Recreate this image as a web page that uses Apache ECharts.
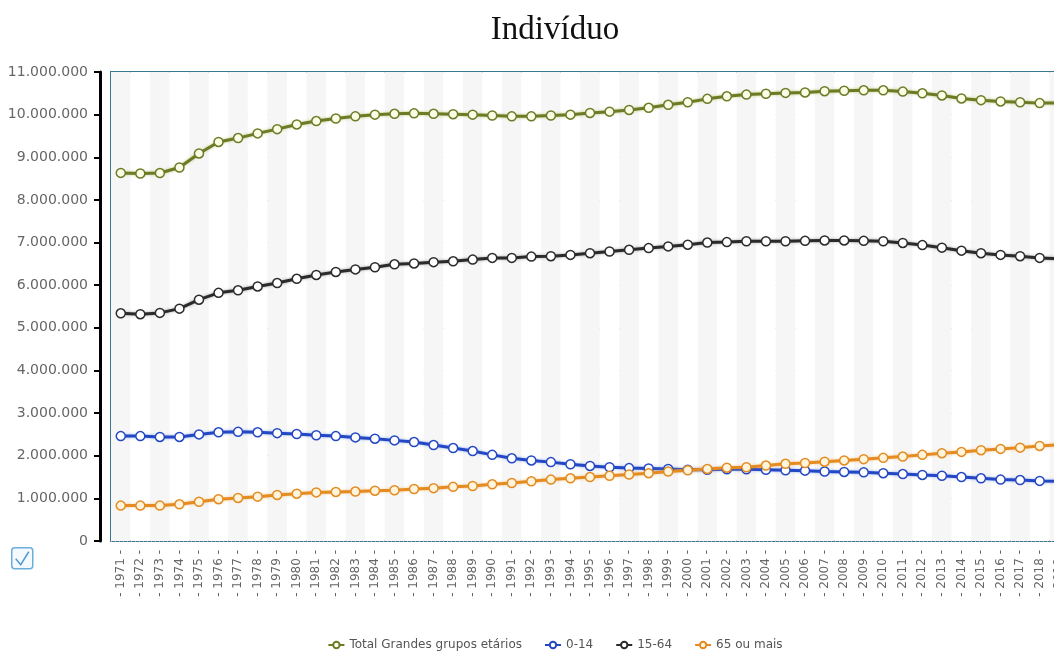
<!DOCTYPE html>
<html>
<head>
<meta charset="utf-8">
<script src="https://cdn.jsdelivr.net/npm/echarts@6/dist/echarts.min.js"></script>
<style>
  html, body { margin: 0; padding: 0; background: #fff; overflow: hidden; }
  #chart { width: 1110px; height: 658px; }
</style>
</head>
<body>
<div id="chart"></div>
<script>
// Resident population by broad age group, 1971-2019
const years = ['1971','1972','1973','1974','1975','1976','1977','1978','1979','1980',
  '1981','1982','1983','1984','1985','1986','1987','1988','1989','1990',
  '1991','1992','1993','1994','1995','1996','1997','1998','1999','2000',
  '2001','2002','2003','2004','2005','2006','2007','2008','2009','2010',
  '2011','2012','2013','2014','2015','2016','2017','2018','2019'];

const total = [8634000, 8620000, 8630000, 8760000, 9090000, 9360000, 9450000, 9560000, 9660000, 9770000,
  9850000, 9910000, 9960000, 10000000, 10020000, 10030000, 10020000, 10010000, 10000000, 9980000,
  9960000, 9960000, 9980000, 10000000, 10040000, 10070000, 10110000, 10160000, 10230000, 10290000,
  10370000, 10430000, 10470000, 10490000, 10510000, 10520000, 10550000, 10560000, 10570000, 10570000,
  10540000, 10500000, 10450000, 10380000, 10340000, 10310000, 10290000, 10270000, 10270000];

const age0to14 = [2460000, 2460000, 2440000, 2440000, 2500000, 2550000, 2560000, 2550000, 2530000, 2510000,
  2480000, 2460000, 2430000, 2400000, 2360000, 2320000, 2250000, 2180000, 2110000, 2020000,
  1940000, 1890000, 1850000, 1800000, 1760000, 1730000, 1710000, 1700000, 1690000, 1670000,
  1670000, 1680000, 1680000, 1670000, 1660000, 1650000, 1630000, 1620000, 1610000, 1590000,
  1570000, 1550000, 1530000, 1500000, 1470000, 1440000, 1430000, 1410000, 1400000];

const age15to64 = [5340000, 5320000, 5350000, 5450000, 5660000, 5820000, 5880000, 5970000, 6050000, 6150000,
  6240000, 6310000, 6370000, 6420000, 6490000, 6510000, 6540000, 6560000, 6600000, 6640000,
  6640000, 6670000, 6680000, 6710000, 6750000, 6790000, 6830000, 6870000, 6910000, 6950000,
  7000000, 7010000, 7030000, 7030000, 7030000, 7040000, 7050000, 7050000, 7040000, 7030000,
  6990000, 6940000, 6880000, 6810000, 6750000, 6710000, 6680000, 6640000, 6620000];

const age65plus = [830000, 830000, 830000, 860000, 920000, 980000, 1010000, 1040000, 1080000, 1110000,
  1140000, 1150000, 1160000, 1180000, 1190000, 1220000, 1240000, 1270000, 1290000, 1330000,
  1360000, 1400000, 1440000, 1470000, 1500000, 1530000, 1560000, 1590000, 1630000, 1660000,
  1690000, 1720000, 1730000, 1770000, 1810000, 1830000, 1860000, 1890000, 1920000, 1950000,
  1980000, 2020000, 2060000, 2090000, 2130000, 2160000, 2190000, 2230000, 2260000];

const seriesNames = ['Total Grandes grupos etários', '0-14', '15-64', '65 ou mais'];

function fmtThousands(v) {
  return String(v).replace(/\B(?=(\d{3})+(?!\d))/g, '.');
}

function lineSeries(name, data, color, fill, glow) {
  return {
    name: name,
    type: 'line',
    data: data,
    symbol: 'circle',
    symbolSize: 9,
    showAllSymbol: true,
    smooth: false,
    lineStyle: { color: color, width: 3, shadowColor: glow, shadowBlur: 3 },
    itemStyle: { color: fill, borderColor: color, borderWidth: 1.5 },
    emphasis: { disabled: true },
    animation: false
  };
}

const chart = echarts.init(document.getElementById('chart'));
chart.setOption({
  backgroundColor: '#ffffff',
  animation: false,
  title: {
    text: 'Indivíduo',
    left: 'center',
    top: 9,
    textStyle: { fontFamily: 'Liberation Serif', fontSize: 33, fontWeight: 'normal', color: '#111' }
  },
  legend: {
    data: seriesNames,
    left: 'center',
    bottom: 2,
    itemWidth: 16,
    itemHeight: 8,
    itemGap: 22,
    textStyle: { fontFamily: 'DejaVu Sans', fontSize: 12, color: '#555' }
  },
  grid: {
    left: 111, top: 72, right: 41, bottom: 117,
    show: true,
    borderColor: '#3b7894',
    borderWidth: 2,
    backgroundColor: 'transparent'
  },
  xAxis: {
    type: 'category',
    data: years,
    boundaryGap: true,
    axisLine: { show: false },
    axisTick: { show: false },
    axisLabel: {
      interval: 0,
      rotate: 90,
      margin: 9,
      fontFamily: 'DejaVu Sans',
      fontSize: 12,
      color: '#666',
      formatter: v => '- ' + v + ' -'
    },
    splitLine: { show: false },
    splitArea: { show: true, interval: 0, areaStyle: { color: ['#f6f6f6', '#ffffff'] } }
  },
  yAxis: {
    type: 'value',
    min: 0,
    max: 11000000,
    interval: 1000000,
    offset: 11,
    axisLine: { show: true, lineStyle: { color: '#000', width: 3 } },
    axisTick: { show: true, length: 6, lineStyle: { color: '#000', width: 2 } },
    axisLabel: {
      margin: 12,
      fontFamily: 'DejaVu Sans',
      fontSize: 14,
      color: '#666',
      formatter: v => fmtThousands(v)
    },
    splitLine: { show: true, lineStyle: { color: '#aaa', type: [1, 3], width: 1 } }
  },
  series: [
    lineSeries(seriesNames[0], total, '#6b7b26', '#fbfde6', 'rgba(160,180,70,0.7)'),
    lineSeries(seriesNames[1], age0to14, '#2448c4', '#ffffff', 'rgba(90,130,230,0.6)'),
    lineSeries(seriesNames[2], age15to64, '#2b2b2b', '#ffffff', 'rgba(80,80,80,0.5)'),
    lineSeries(seriesNames[3], age65plus, '#e48b22', '#fff4dc', 'rgba(240,170,80,0.6)')
  ],
  graphic: [
    {
      type: 'group',
      left: 11,
      top: 547,
      children: [
        { type: 'rect', shape: { x: 0, y: 0, width: 21, height: 21, r: 3 },
          style: { fill: '#f4f9fd', stroke: '#6aaedb', lineWidth: 1.5 } },
        { type: 'polyline', shape: { points: [[4, 11], [9, 17], [17, 4]] },
          style: { stroke: '#4f9bd0', lineWidth: 1.5, fill: null } }
      ]
    }
  ]
});
</script>
</body>
</html>
